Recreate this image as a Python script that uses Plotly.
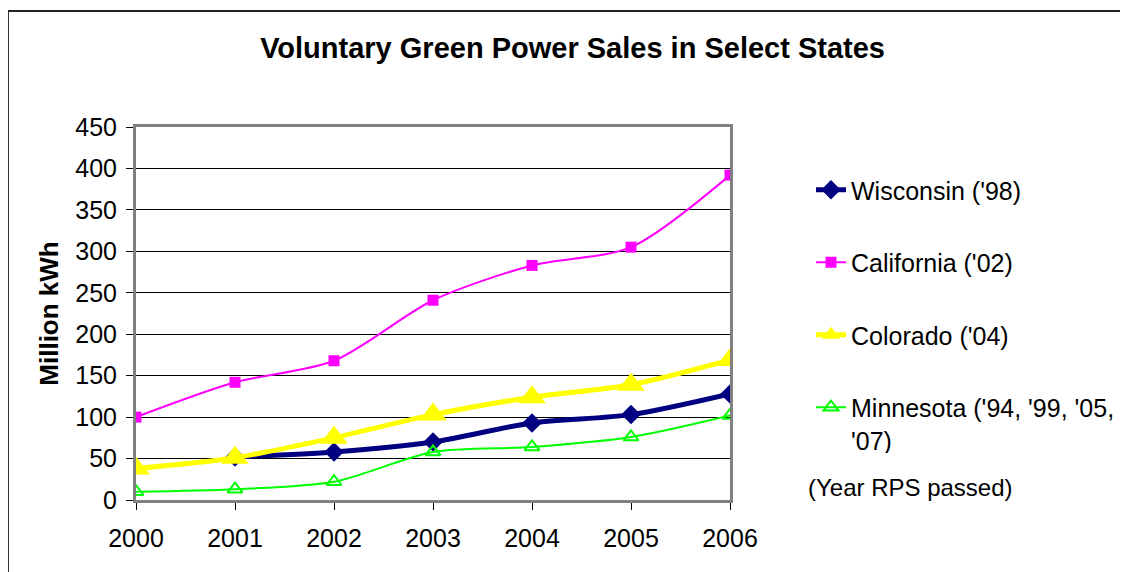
import plotly.graph_objects as go

years = [2000, 2001, 2002, 2003, 2004, 2005, 2006]

wisconsin = [None, 52, 58, 70, 93, 103, 128]
california = [100, 142, 168, 241, 283, 305, 392]
colorado = [38, 51, 75, 103, 124, 139, 169]
minnesota = [10, 13, 22, 58, 64, 76, 102]

names = ["Wisconsin ('98)", "California ('02)", "Colorado ('04)",
         "Minnesota ('94, '99, '05,<br>'07)"]

FONT = "Liberation Sans, Arial, sans-serif"

fig = go.Figure()

series = [
    (names[0], wisconsin, "#000080", 5, "diamond", 15),
    (names[1], california, "#FF00FF", 2, "square", 11),
    (names[2], colorado, "#FFFF00", 5, "triangle-up", 24),
    (names[3], minnesota, "#00FF00", 2, "triangle-up-open", 13),
]

for i, (nm, vals, col, lw, sym, ms) in enumerate(series):
    fig.add_trace(go.Scatter(
        x=years, y=vals, name=nm, mode="lines+markers",
        line=dict(color=col, width=lw, shape="spline", smoothing=0.8),
        marker=dict(symbol=sym, size=ms, color=col,
                    line=dict(color=col, width=2 if sym.endswith("open") else 0)),
        legendgroup=f"g{i}",
        connectgaps=False,
    ))

fig.update_layout(
    width=1128, height=572,
    paper_bgcolor="white", plot_bgcolor="white",
    font=dict(family=FONT, size=25, color="black"),
    margin=dict(l=128, r=406, t=119, b=80, autoexpand=False),
    title=dict(text="<b>Voluntary Green Power Sales in Select States</b>",
               x=0.5005, xref="container", xanchor="center",
               y=1 - 40 / 572, yref="container", yanchor="middle",
               font=dict(size=29)),
    xaxis=dict(range=[2000, 2006], tickvals=years, ticks="outside", ticklen=7,
               tickcolor="black", showgrid=False, zeroline=False,
               showline=True, mirror=True, linecolor="#808080", linewidth=3,
               tickfont=dict(size=25), ticklabelstandoff=7),
    yaxis=dict(range=[0, 450], dtick=50, ticks="outside", ticklen=7,
               tickcolor="black", showgrid=True, gridcolor="black", gridwidth=1,
               zeroline=False, showline=True, mirror=True,
               linecolor="#808080", linewidth=3, tickfont=dict(size=25),
               ticklabelstandoff=4,
               title=dict(text="<b>Million kWh</b>", font=dict(size=26),
                          standoff=10)),
    legend=dict(xref="container", yref="container",
                x=803 / 1128, xanchor="left", y=1 - 159 / 572, yanchor="top",
                tracegroupgap=37, valign="top",
                font=dict(size=25), bgcolor="rgba(0,0,0,0)"),
    showlegend=True,
)

# outer chart border (only the top and left edges are visible)
fig.add_shape(type="line", xref="paper", yref="paper",
              x0=-0.2155, x1=2.0, y0=1.311, y1=1.311,
              line=dict(color="#222222", width=2))
fig.add_shape(type="line", xref="paper", yref="paper",
              x0=-0.2155, x1=-0.2155, y0=1.311, y1=-1.0,
              line=dict(color="#333333", width=2))

fig.add_annotation(text="(Year RPS passed)", xref="paper", yref="paper",
                   x=(806 - 136) / 594, y=(500 - 487) / 373,
                   xanchor="left", yanchor="middle", showarrow=False,
                   font=dict(size=24))

fig.write_html("out.html")
